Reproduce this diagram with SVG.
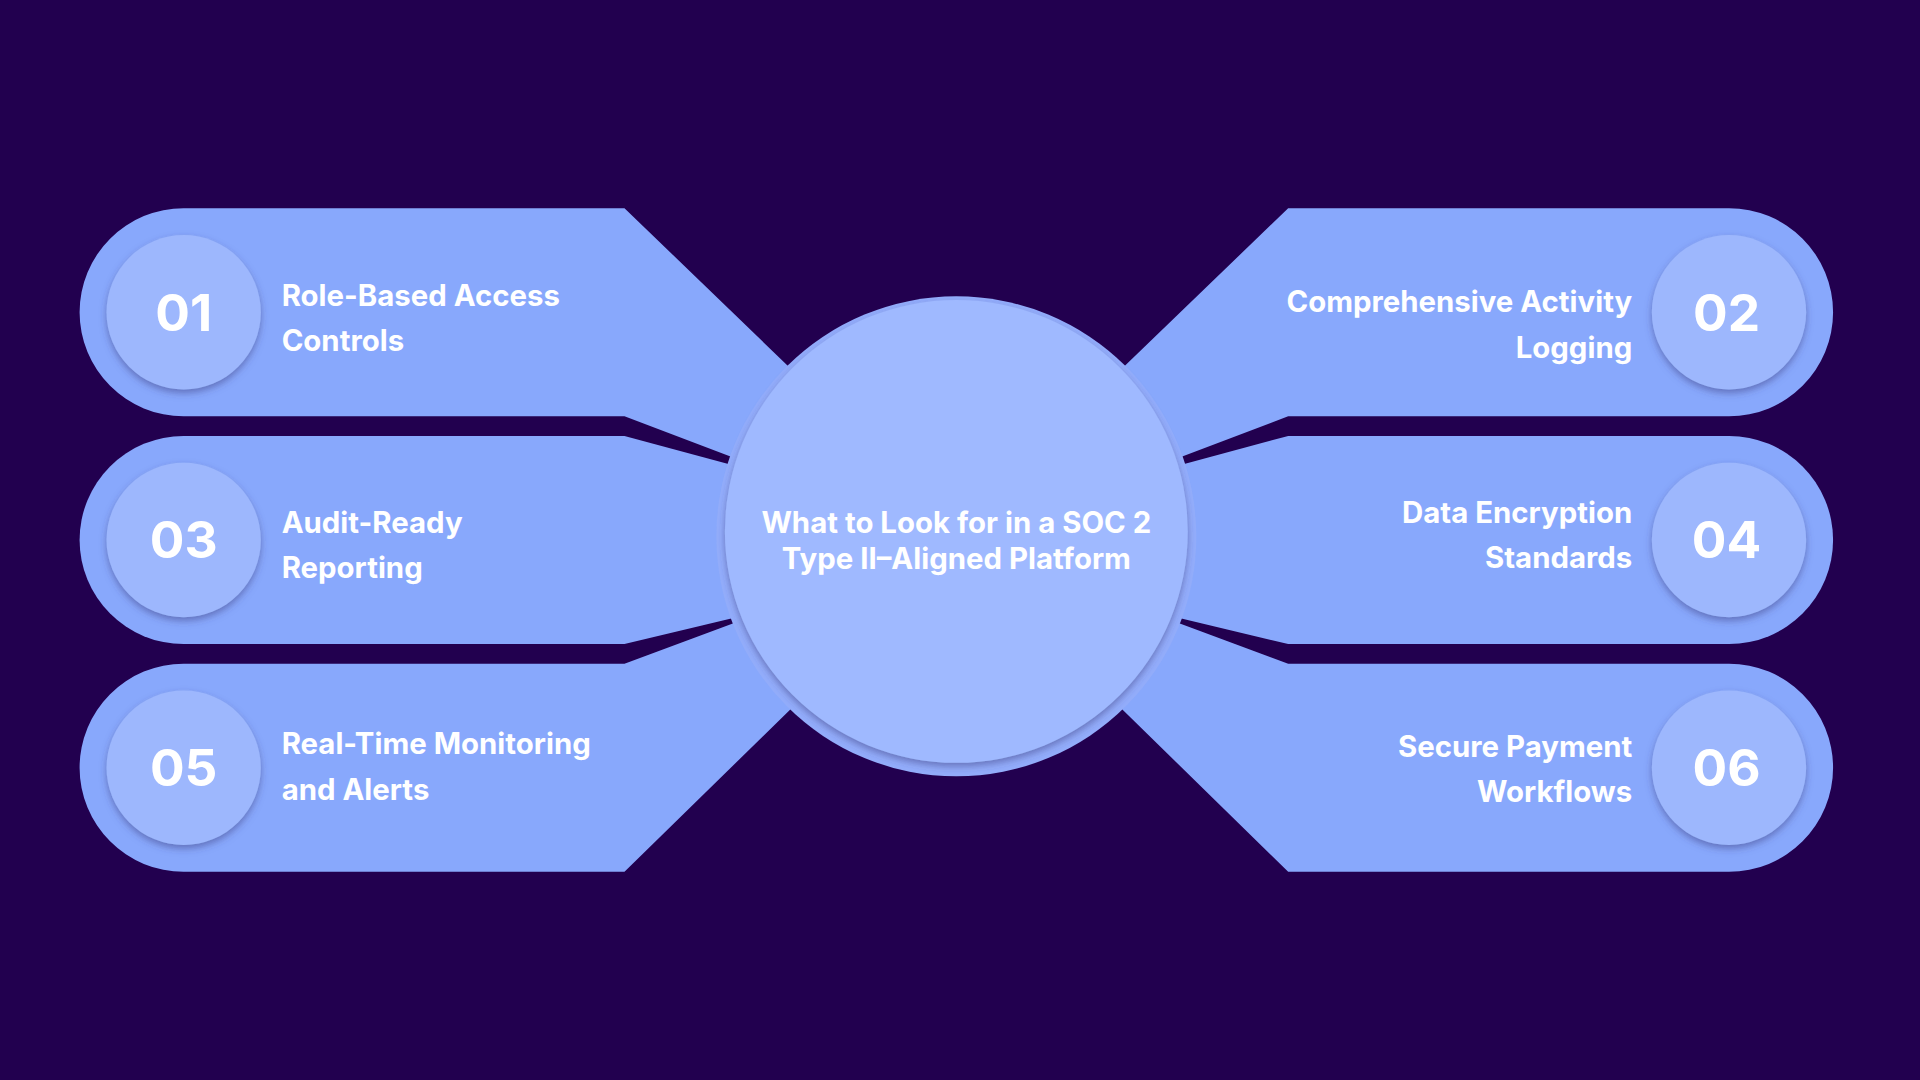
<svg xmlns="http://www.w3.org/2000/svg" width="1920" height="1080" viewBox="0 0 1920 1080">
<defs>
<style>
.band{fill:#88a8fc}
.num{fill:#9db7fd;filter:url(#sh)}
.nt{font-family:Inter,"Liberation Sans",sans-serif;font-weight:700;font-size:42px;fill:#fff;text-anchor:middle}
.lt{font-family:Inter,"Liberation Sans",sans-serif;font-weight:700;font-size:24px;fill:#fff}
</style>
<filter id="sh" x="-30%" y="-30%" width="160%" height="160%"><feDropShadow dx="0" dy="3" stdDeviation="3" flood-color="#3a3a80" flood-opacity="0.5"/></filter>
</defs>
<rect width="1920" height="1080" fill="#22004f"/>
<g transform="scale(1.2245)">
<g id="connectors">
<g id="bands-left">
<path class="band" d="M150,170 H510 L655,310 L610,378 L510,340 H150 A85,85 0 0 1 150,170 Z"/>
<path class="band" d="M150,356 H510 L610,383 L610,502 L510,526 H150 A85,85 0 0 1 150,356 Z"/>
<path class="band" d="M150,542 H510 L610,505 L655,570 L510,712 H150 A85,85 0 0 1 150,542 Z"/>
</g>
<g transform="translate(1562,0) scale(-1,1)">
<path class="band" d="M150,170 H510 L655,310 L610,378 L510,340 H150 A85,85 0 0 1 150,170 Z"/>
<path class="band" d="M150,356 H510 L610,383 L610,502 L510,526 H150 A85,85 0 0 1 150,356 Z"/>
<path class="band" d="M150,542 H510 L610,505 L655,570 L510,712 H150 A85,85 0 0 1 150,542 Z"/>
</g>
</g>
<g id="center">
<circle cx="781" cy="438" r="196" fill="#93adfb"/>
<circle cx="781" cy="434" r="189" fill="#9fb9ff" filter="url(#sh)"/>
<text class="lt" x="781" y="435" text-anchor="middle">What to Look for in a SOC 2</text>
<text class="lt" x="781" y="465" text-anchor="middle">Type II–Aligned Platform</text>
</g>
<g id="n01"><circle class="num" cx="150" cy="255" r="63"/><text class="nt" x="150" y="270">01</text>
<text class="lt" x="230" y="250">Role-Based Access</text><text class="lt" x="230" y="287">Controls</text></g>
<g id="n03"><circle class="num" cx="150" cy="441" r="63"/><text class="nt" x="150" y="456">03</text>
<text class="lt" x="230" y="435">Audit-Ready</text><text class="lt" x="230" y="472">Reporting</text></g>
<g id="n05"><circle class="num" cx="150" cy="627" r="63"/><text class="nt" x="150" y="642">05</text>
<text class="lt" x="230" y="616">Real-Time Monitoring</text><text class="lt" x="230" y="653">and Alerts</text></g>
<g id="n02"><circle class="num" cx="1412" cy="255" r="63"/><text class="nt" x="1410" y="270">02</text>
<text class="lt" x="1333" y="255" text-anchor="end">Comprehensive Activity</text><text class="lt" x="1333" y="292" text-anchor="end">Logging</text></g>
<g id="n04"><circle class="num" cx="1412" cy="441" r="63"/><text class="nt" x="1410" y="456">04</text>
<text class="lt" x="1333" y="427" text-anchor="end">Data Encryption</text><text class="lt" x="1333" y="464" text-anchor="end">Standards</text></g>
<g id="n06"><circle class="num" cx="1412" cy="627" r="63"/><text class="nt" x="1410" y="642">06</text>
<text class="lt" x="1333" y="618" text-anchor="end">Secure Payment</text><text class="lt" x="1333" y="655" text-anchor="end">Workflows</text></g>
</g>
</svg>
